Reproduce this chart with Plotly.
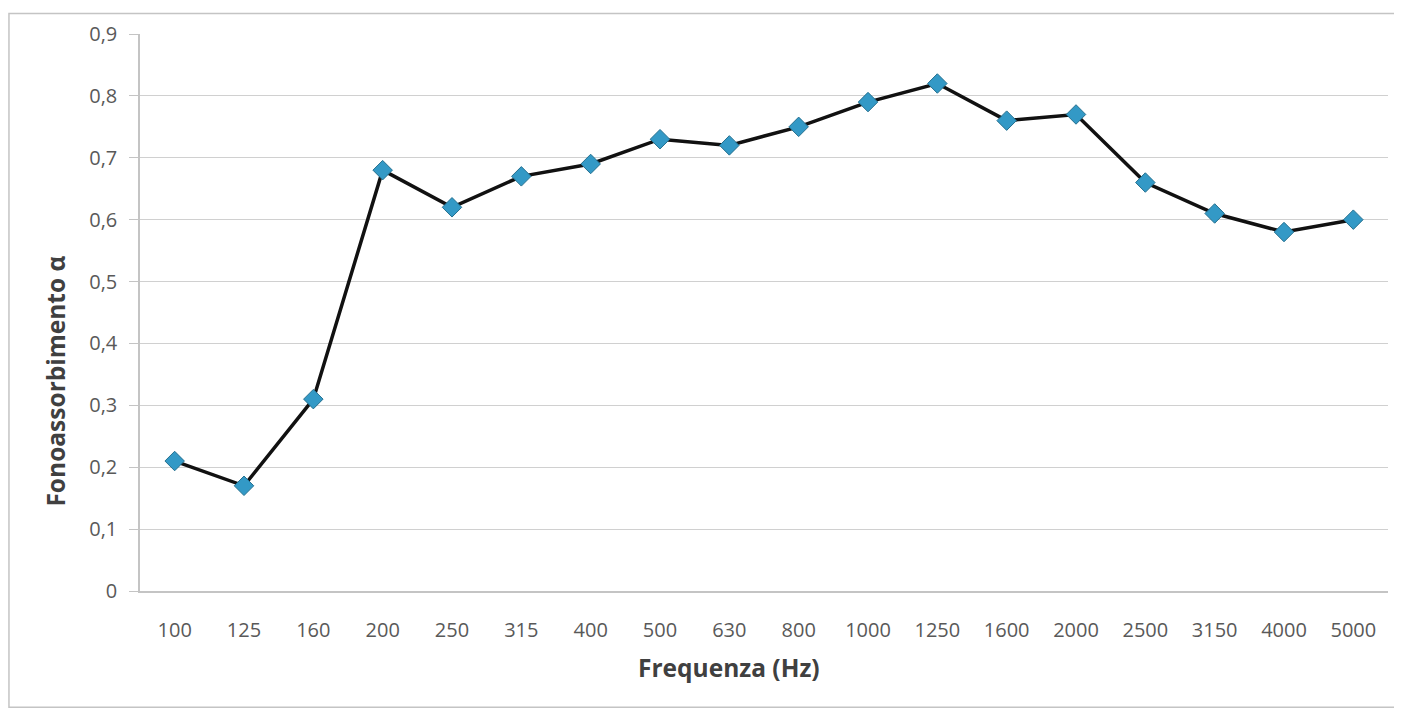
import plotly.graph_objects as go

frequencies = ["100", "125", "160", "200", "250", "315", "400", "500", "630",
               "800", "1000", "1250", "1600", "2000", "2500", "3150", "4000", "5000"]
alpha = [0.21, 0.17, 0.31, 0.68, 0.62, 0.67, 0.69, 0.73, 0.72,
         0.75, 0.79, 0.82, 0.76, 0.77, 0.66, 0.61, 0.58, 0.60]
y_ticks = [0, 0.1, 0.2, 0.3, 0.4, 0.5, 0.6, 0.7, 0.8, 0.9]
y_tick_labels = ["0", "0,1", "0,2", "0,3", "0,4", "0,5", "0,6", "0,7", "0,8", "0,9"]
x_title = "Frequenza (Hz)"
y_title = "Fonoassorbimento α"

FONT = "Open Sans, Liberation Sans, sans-serif"

fig = go.Figure()
fig.add_trace(go.Scatter(
    x=frequencies, y=alpha, mode="lines+markers",
    line=dict(color="#111111", width=3.5),
    marker=dict(symbol="diamond", size=15, color="#3399C6",
                line=dict(color="#25708F", width=1)),
    showlegend=False,
))

fig.update_layout(
    width=1394, height=704,
    margin=dict(l=132, r=14, t=22, b=121),
    paper_bgcolor="white", plot_bgcolor="white",
    font=dict(family=FONT, size=18, color="#595959"),
    shapes=[dict(type="rect", xref="paper", yref="paper",
                 x0=-0.105, x1=1.0096, y0=-0.2086, y1=1.037,
                 line=dict(color="#C4C4C4", width=1.5), fillcolor="rgba(0,0,0,0)",
                 layer="below")],
    annotations=[
        dict(text="<b>" + x_title + "</b>", xref="paper", yref="paper",
             x=0.472, y=-0.137, xanchor="center", yanchor="middle", showarrow=False,
             font=dict(family=FONT, size=24.5, color="#404040")),
        dict(text="<b>" + y_title + "</b>", xref="paper", yref="paper",
             x=-0.0673, y=0.376, xanchor="center", yanchor="middle", showarrow=False,
             textangle=-90, font=dict(family=FONT, size=24.5, color="#404040")),
    ],
)
fig.update_xaxes(
    type="category", range=[-0.5, len(frequencies) - 0.5],
    showgrid=False, showline=True, linecolor="#C4C4C4", linewidth=1.5,
    ticks="", ticklabelstandoff=20, tickfont=dict(family=FONT, size=20, color="#595959"),
)
fig.update_yaxes(
    range=[0, 0.9], tickvals=y_ticks, ticktext=y_tick_labels,
    showgrid=True, gridcolor="#D0D0D0", gridwidth=1.2,
    showline=True, linecolor="#C4C4C4", linewidth=1.5,
    ticks="outside", ticklen=9, tickcolor="#C4C4C4", tickwidth=1.2,
    ticklabelstandoff=8,
    tickfont=dict(family=FONT, size=20, color="#595959"), zeroline=False,
)

fig.write_html("out.html")
